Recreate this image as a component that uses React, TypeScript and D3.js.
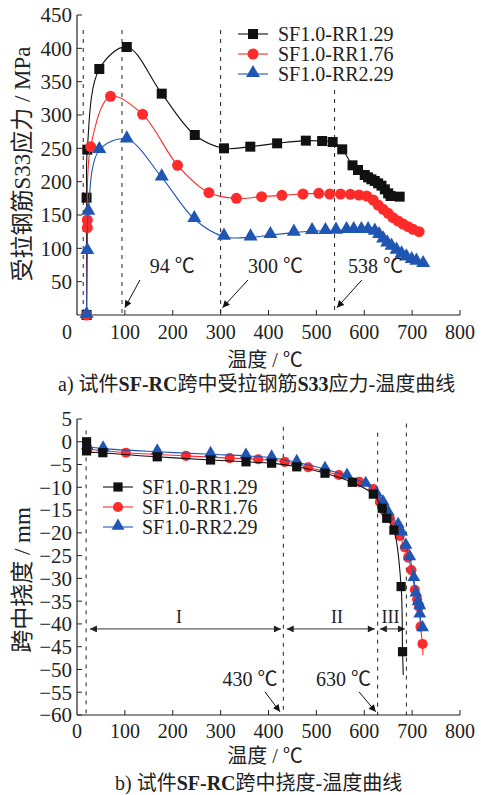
import React from "react";
import * as d3 from "d3";

// ---------- Top chart: steel stress vs temperature ----------
const seriesNames = ["SF1.0-RR1.29", "SF1.0-RR1.76", "SF1.0-RR2.29"];

const stressT129 = [20, 20, 21.5, 46.6, 104, 177, 246, 307, 362, 418, 478, 512, 534, 554, 575.5, 587, 601, 608, 615, 622, 629, 636, 643, 650, 655, 674];
const stressV129 = [0, 176, 248, 369, 402, 332, 270, 250, 252.5, 257.5, 261.5, 261, 259.5, 248.5, 224.5, 217.5, 210, 206.5, 203.5, 201, 197.5, 194, 188.5, 182.5, 178.5, 177.5];

const stressT176 = [20, 21.5, 21.5, 28.5, 70, 137, 210, 275.5, 333, 385.5, 428, 472, 505, 528, 550.5, 571, 589, 605, 618.6, 629, 639.5, 650, 660, 670.8, 681, 691.6, 702, 714.6];
const stressV176 = [0, 131, 142.5, 252.5, 328, 301, 224.5, 183.5, 175, 177.5, 179.5, 181.5, 182.5, 181.5, 181.5, 181, 180, 178.5, 172.5, 165, 158.5, 152.5, 146, 141, 136.5, 132.5, 128.5, 125];

const stressT229 = [20, 21.5, 23.6, 46.6, 104, 177, 245, 307, 362.5, 404, 453, 491, 519, 541, 563, 578, 594, 608, 622, 631, 639.5, 648, 657, 667.5, 678, 688, 699, 709, 723];
const stressV229 = [0, 96, 155, 247.5, 263.5, 206.5, 144, 117.5, 116.5, 120, 123.5, 126, 126, 126.5, 127.5, 127.5, 127.5, 127.5, 125, 120, 113.5, 107.5, 102.5, 96.5, 91, 86.5, 82.5, 80, 76.5];

const topXTicks = [0, 100, 200, 300, 400, 500, 600, 700, 800];
const topYTicks = [50, 100, 150, 200, 250, 300, 350, 400, 450];
const topDashT = [13, 94, 300, 538];
const topDashTop = [427.5, 427.5, 427.5, 337.5];
const topNoteLabels = ["94 ℃", "300 ℃", "538 ℃"];
const topNoteTextT = [152, 357, 566];
const topNoteTextV = 63;
const topNoteFromT = [131.5, 357, 595];
const topNoteToT = [100, 304, 543];
const topNoteFromV = 52.5;
const topNoteToV = 11;

// ---------- Bottom chart: midspan deflection vs temperature ----------
const deflT129 = [20, 20, 54, 167.6, 279, 353, 406.5, 459, 518, 575, 619, 637.5, 647, 662, 677, 680];
const deflV129 = [0, -2.0, -2.4, -3.3, -4.0, -4.4, -4.7, -5.5, -6.9, -8.9, -11.5, -14.6, -16.8, -19.4, -31.8, -46.1];
const deflTail129 = [681.5, -51.2];

const deflT176 = [21.5, 102, 227.5, 319, 378.5, 434, 483, 547, 589.5, 619, 632.6, 643, 653.4, 664, 674, 684.8, 691.6, 698.5, 705.6, 710.4, 714.6, 717.5, 721.7];
const deflV176 = [-1.65, -2.4, -3.1, -3.6, -3.85, -4.4, -5.6, -7.3, -8.8, -10.4, -13.2, -15.3, -16.8, -18.6, -20.7, -23.2, -25.4, -28.2, -32.5, -34.6, -36.2, -40.6, -44.4];
const deflTail176 = [722.5, -46.8];

const deflT229 = [21.5, 54.5, 167.6, 279, 353, 406.5, 459, 518, 564, 603, 625.7, 639.5, 650, 670.8, 678, 687, 695, 703.6, 707.8, 712.5, 716, 716, 721.7];
const deflV229 = [-1.1, -1.5, -2.2, -2.75, -3.1, -3.5, -4.5, -6.0, -7.5, -9.3, -11.5, -13.4, -15.6, -18.3, -20.0, -22.9, -25.4, -30, -33.4, -35.3, -36.2, -38, -41];

const botXTicks = [0, 100, 200, 300, 400, 500, 600, 700, 800];
const botYTicks = [5, 0, -5, -10, -15, -20, -25, -30, -35, -40, -45, -50, -55, -60];
const botDashT = [19, 431, 628, 688];
const botDashTop = [2.5, 3.3, 2, 4];
const botNoteLabels = ["430 ℃", "630 ℃"];
const botNoteTextT = [304, 499];
const botNoteTextV = -53.6;
const botNoteFromT = [392.5, 589];
const botNoteToT = [424, 624];
const botNoteFromV = -54.9;
const botNoteToV = -59.3;
const stageLabels = ["I", "II", "III"];
const stageStart = [27, 438, 632.6];
const stageEnd = [426, 622, 685];
const stageLabelT = [213, 543, 655];
const stageArrowV = -41.1;
const stageLabelV = -39.8;

const colors = ["#111111", "#ff2a2a", "#1f56b4"];
const FONT = "'Liberation Serif', 'Times New Roman', 'Noto Sans CJK SC', serif";
const CJK = "'Liberation Serif', 'Noto Sans CJK SC', sans-serif";

const zip = (a: number[], b: number[]) => a.map((v, i) => [v, b[i]] as [number, number]);

function Marker({ kind, x, y, color, s }: { kind: number; x: number; y: number; color: string; s: number }) {
  const type = kind === 0 ? d3.symbolSquare : kind === 1 ? d3.symbolCircle : d3.symbolTriangle;
  const size = kind === 0 ? 100 * s : kind === 1 ? 95 * s : 85 * s;
  const dy = kind === 2 ? -1 : 0;
  return <path d={d3.symbol().type(type).size(size)() || ""} transform={`translate(${x},${y + dy})`} fill={color} />;
}

export default function App() {
  const x1 = d3.scaleLinear().domain([0, 800]).range([77, 460]);
  const y1 = d3.scaleLinear().domain([0, 450]).range([315, 15]);
  const x2 = d3.scaleLinear().domain([0, 800]).range([77, 460]);
  const y2 = d3.scaleLinear().domain([-60, 5]).range([715, 419]);

  const line1 = d3.line<[number, number]>().x((d) => x1(d[0])).y((d) => y1(d[1])).curve(d3.curveCatmullRom.alpha(0.5));
  const line2 = d3.line<[number, number]>().x((d) => x2(d[0])).y((d) => y2(d[1])).curve(d3.curveCatmullRom.alpha(0.5));

  const topSeries = [zip(stressT129, stressV129), zip(stressT176, stressV176), zip(stressT229, stressV229)];
  const botSeries = [
    zip(deflT129, deflV129),
    zip(deflT176, deflV176),
    zip(deflT229, deflV229),
  ];
  const botTails: ([number, number] | null)[] = [deflTail129 as [number, number], deflTail176 as [number, number], null];

  const topOrder = [0, 1, 2];
  const botOrder = [1, 2, 0];

  const fmtMinus = (v: number) => (v < 0 ? "\u2212" + Math.abs(v) : String(v));

  return (
    <svg width={481} height={795} style={{ position: "absolute", left: 0, top: 0, background: "#fff" }} fontFamily={FONT}>
      <defs>
        <marker id="ah" viewBox="0 0 10 10" refX="10" refY="5" markerWidth="9" markerHeight="7" markerUnits="userSpaceOnUse" orient="auto-start-reverse">
          <path d="M0,0 L10,5 L0,10 z" fill="#111" />
        </marker>
        <marker id="ah2" viewBox="0 0 10 10" refX="10" refY="5" markerWidth="11" markerHeight="7" markerUnits="userSpaceOnUse" orient="auto-start-reverse">
          <path d="M0,0 L10,5 L0,10 z" fill="#222" />
        </marker>
      </defs>

      {/* ===== Top chart ===== */}
      {topDashT.map((t, i) => (
        <line key={"td" + i} x1={x1(t)} x2={x1(t)} y1={y1(topDashTop[i])} y2={y1(0)} stroke="#222" strokeWidth={1} strokeDasharray="4,5" />
      ))}
      <line x1={x1(0)} x2={x1(0)} y1={y1(450)} y2={y1(0)} stroke="#222" strokeWidth={1.2} />
      <line x1={x1(0)} x2={x1(800)} y1={y1(0)} y2={y1(0)} stroke="#222" strokeWidth={1.2} />
      {topYTicks.map((v) => (
        <g key={"ty" + v}>
          <line x1={x1(0)} x2={x1(0) + 5} y1={y1(v)} y2={y1(v)} stroke="#222" />
          <text x={x1(0) - 5} y={y1(v)} dy="0.35em" textAnchor="end" fontSize={21} fill="#222">{v}</text>
        </g>
      ))}
      {topXTicks.map((v) => (
        <g key={"tx" + v}>
          {v > 0 && <line x1={x1(v)} x2={x1(v)} y1={y1(0)} y2={y1(0) - 5} stroke="#222" />}
          <text x={x1(v) - (v === 0 ? 10 : 0)} y={y1(0) + 24} textAnchor="middle" fontSize={20} fill="#222">{v}</text>
        </g>
      ))}
      {topOrder.map((si) => (
        <g key={"ts" + si}>
          <path d={line1(topSeries[si]) || ""} fill="none" stroke={colors[si]} strokeWidth={1.1} />
          {topSeries[si].map((d, j) => (
            <Marker key={j} kind={si} x={x1(d[0])} y={y1(d[1])} color={colors[si]} s={1} />
          ))}
        </g>
      ))}
      {topNoteLabels.map((lab, i) => (
        <g key={"tn" + i}>
          <text x={x1(topNoteTextT[i])} y={y1(topNoteTextV)} fontSize={20} fontFamily={CJK} fill="#222">{lab}</text>
          <line x1={x1(topNoteFromT[i])} y1={y1(topNoteFromV)} x2={x1(topNoteToT[i])} y2={y1(topNoteToV)} stroke="#111" strokeWidth={1} markerEnd="url(#ah)" />
        </g>
      ))}
      {seriesNames.map((n, i) => {
        const ly = 34 + i * 20;
        return (
          <g key={"tl" + i}>
            <line x1={238} x2={268} y1={ly} y2={ly} stroke={colors[i]} strokeWidth={1.1} />
            <Marker kind={i} x={253} y={ly} color={colors[i]} s={1} />
            <text x={278} y={ly} dy="0.35em" fontSize={20} fill="#222">{n}</text>
          </g>
        );
      })}
      <text transform={`translate(30,164) rotate(-90)`} textAnchor="middle" fontSize={23} fontFamily={CJK} fill="#222">受拉钢筋S33应力 / MPa</text>
      <text x={265} y={367} textAnchor="middle" fontSize={20} fontFamily={CJK} fill="#222">温度 / ℃</text>
      <text x={58} y={391} fontSize={20} fontFamily={CJK} fill="#222">
        a)  试件<tspan fontWeight="bold" fontFamily={FONT}>SF-RC</tspan>跨中受拉钢筋<tspan fontWeight="bold" fontFamily={FONT}>S33</tspan>应力-温度曲线
      </text>

      {/* ===== Bottom chart ===== */}
      {botDashT.map((t, i) => (
        <line key={"bd" + i} x1={x2(t)} x2={x2(t)} y1={y2(botDashTop[i])} y2={y2(-60)} stroke="#222" strokeWidth={1} strokeDasharray="4,5" />
      ))}
      <line x1={x2(0)} x2={x2(0)} y1={y2(5)} y2={y2(-60)} stroke="#222" strokeWidth={1.2} />
      <line x1={x2(0)} x2={x2(800)} y1={y2(-60)} y2={y2(-60)} stroke="#222" strokeWidth={1.2} />
      {botYTicks.map((v) => (
        <g key={"by" + v}>
          <line x1={x2(0)} x2={x2(0) + 5} y1={y2(v)} y2={y2(v)} stroke="#222" />
          <text x={x2(0) - 5} y={y2(v)} dy="0.35em" textAnchor="end" fontSize={21} fill="#222">{fmtMinus(v)}</text>
        </g>
      ))}
      {botXTicks.map((v) => (
        <g key={"bx" + v}>
          {v > 0 && <line x1={x2(v)} x2={x2(v)} y1={y2(-60)} y2={y2(-60) - 5} stroke="#222" />}
          <text x={x2(v)} y={y2(-60) + 23} textAnchor="middle" fontSize={20} fill="#222">{v}</text>
        </g>
      ))}
      {stageLabels.map((lab, i) => (
        <g key={"sg" + i}>
          <line x1={x2(stageStart[i])} x2={x2(stageEnd[i])} y1={y2(stageArrowV)} y2={y2(stageArrowV)} stroke="#333" strokeWidth={1} markerStart="url(#ah2)" markerEnd="url(#ah2)" />
          <text x={x2(stageLabelT[i])} y={y2(stageLabelV)} textAnchor="middle" fontSize={18} fill="#222">{lab}</text>
        </g>
      ))}
      {botOrder.map((si) => {
        const pts = botTails[si] ? [...botSeries[si], botTails[si] as [number, number]] : botSeries[si];
        return (
          <g key={"bs" + si}>
            <path d={line2(pts) || ""} fill="none" stroke={colors[si]} strokeWidth={1.1} />
            {botSeries[si].map((d, j) => (
              <Marker key={j} kind={si} x={x2(d[0])} y={y2(d[1])} color={colors[si]} s={0.85} />
            ))}
          </g>
        );
      })}
      {botNoteLabels.map((lab, i) => (
        <g key={"bn" + i}>
          <text x={x2(botNoteTextT[i])} y={y2(botNoteTextV)} fontSize={20} fontFamily={CJK} fill="#222">{lab}</text>
          <line x1={x2(botNoteFromT[i])} y1={y2(botNoteFromV)} x2={x2(botNoteToT[i])} y2={y2(botNoteToV)} stroke="#111" strokeWidth={1} markerEnd="url(#ah)" />
        </g>
      ))}
      {seriesNames.map((n, i) => {
        const ly = 487 + i * 20;
        return (
          <g key={"bl" + i}>
            <line x1={103} x2={133} y1={ly} y2={ly} stroke={colors[i]} strokeWidth={1.1} />
            <Marker kind={i} x={118} y={ly} color={colors[i]} s={0.85} />
            <text x={142} y={ly} dy="0.35em" fontSize={20} fill="#222">{n}</text>
          </g>
        );
      })}
      <text transform={`translate(30,580) rotate(-90)`} textAnchor="middle" fontSize={23} fontFamily={CJK} fill="#222">跨中挠度 / mm</text>
      <text x={265} y={763} textAnchor="middle" fontSize={20} fontFamily={CJK} fill="#222">温度 / ℃</text>
      <text x={115} y={790} fontSize={20} fontFamily={CJK} fill="#222">
        b)  试件<tspan fontWeight="bold" fontFamily={FONT}>SF-RC</tspan>跨中挠度-温度曲线
      </text>
    </svg>
  );
}
